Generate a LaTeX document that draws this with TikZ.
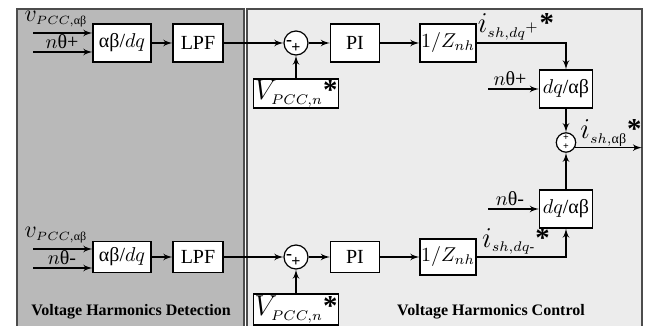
\documentclass[tikz,border=0pt]{standalone}
\usepackage{amsmath}
\usepackage{fontspec}
\setmainfont{Liberation Serif}
\usetikzlibrary{arrows}
\def\albe{\text{αβ}}
\def\thet{\text{θ}}
\def\rstar{\textbf{\Large *}}
\def\sub#1{_{\scriptscriptstyle #1}}

\begin{document}
\begin{tikzpicture}[x=0.5pt,y=-0.5pt,line width=0.6pt,>=latex',
    blk/.style={draw,fill=white,inner sep=0.5pt,minimum height=19pt},
    sumc/.style={draw,fill=white,circle,inner sep=0pt,minimum size=12pt},
    sgn/.style={inner sep=0pt,font=\bfseries\small},
    panel/.style={draw=black!70,line width=1pt},
    title/.style={font=\footnotesize\bfseries}]
    \useasboundingbox (0,0) rectangle (655,326);
    % the two panels
    \draw[panel,fill=gray!55] (17,9) rectangle (244,340);
    \draw[panel,fill=gray!15] (247,9) rectangle (642,340);
    \node[title] (tdet) at (131,312) {Voltage Harmonics Detection};
    \node[title] (tctl) at (491,312) {Voltage Harmonics Control};

    % positive sequence
    \begin{scope}
        \coordinate (va) at (33,33);
        \coordinate (na) at (33,52);
        \node[anchor=west,inner sep=0pt] (lva) at (24,19) {\large$v\sub{PCC,\albe}$};
        \node (lna) at (62,42) {$n\thet$+};
        \node[blk,minimum width=29pt] (ab1) at (122,43) {\albe/$dq$};
        \node[blk,minimum width=25pt] (lpf1) at (198,43) {LPF};
        \node[sumc] (sum1) at (296,43) {};
        \node[sgn] (m1) at ([xshift=-3.5pt]sum1.center) {-};
        \node[sgn] (p1) at ([yshift=-2.5pt]sum1.center) {\footnotesize +};
        \node[blk,minimum width=41.5pt,minimum height=14.5pt] (vr1) at (296,93.5) {\Large$V\sub{PCC,n}$\rstar};
        \node[blk,minimum width=24.5pt] (pi1) at (355,43) {PI};
        \node[blk,minimum width=28pt] (z1) at (448,43) {$1/Z_{nh}$};
        \node[blk,minimum width=26.5pt] (dq1) at (566,89) {$dq$/\albe};
        \coordinate (nc) at (488,89);
        \node (lnc) at (510,79) {$n\thet$+};
        \draw[->] (va) -- (va -| ab1.west);
        \draw[->] (na) -- (na -| ab1.west);
        \draw[->] (ab1) -- (lpf1);
        \draw[->] (lpf1) -- (sum1);
        \draw[->] (vr1) -- (sum1);
        \draw[->] (sum1) -- (pi1);
        \draw[->] (pi1) -- (z1);
        \draw[->] (z1) -| node[pos=0.22,above,inner sep=1pt] (isp) {\Large$i\sub{sh,dq^{+}}$\rstar} (dq1);
        \draw[->] (nc) -- (dq1);
    \end{scope}

    % negative sequence
    \begin{scope}
        \coordinate (vb) at (33,249);
        \coordinate (nb) at (33,268);
        \node[anchor=west,inner sep=0pt] (lvb) at (24,235) {\large$v\sub{PCC,\albe}$};
        \node (lnb) at (62,258) {$n\thet$-};
        \node[blk,minimum width=29pt,minimum height=15.5pt] (ab2) at (122,257) {\albe/$dq$};
        \node[blk,minimum width=25pt,minimum height=15.5pt] (lpf2) at (198,257) {LPF};
        \node[sumc] (sum2) at (296,257) {};
        \node[sgn] (m2) at ([xshift=-3.5pt]sum2.center) {-};
        \node[sgn] (p2) at ([yshift=-2.5pt]sum2.center) {\footnotesize +};
        \node[blk,minimum width=41.5pt,minimum height=15.5pt] (vr2) at (296,309.5) {\Large$V\sub{PCC,n}$\rstar};
        \node[blk,minimum width=24.5pt,minimum height=15.5pt] (pi2) at (355,257) {PI};
        \node[blk,minimum width=28pt,minimum height=18pt] (z2) at (448,257) {$1/Z_{nh}$};
        \node[blk,minimum width=26.5pt] (dq2) at (566,209) {$dq$/\albe};
        \coordinate (nd) at (488,209);
        \node (lnd) at (510,199) {$n\thet$-};
        \draw[->] (vb) -- (vb -| ab2.west);
        \draw[->] (nb) -- (nb -| ab2.west);
        \draw[->] (ab2) -- (lpf2);
        \draw[->] (lpf2) -- (sum2);
        \draw[->] (vr2) -- (sum2);
        \draw[->] (sum2) -- (pi2);
        \draw[->] (pi2) -- (z2);
        \draw[->] (z2) -| node[pos=0.22,above,inner sep=1pt] (ism) {\Large$i\sub{sh,dq\text{-}}$\rstar} (dq2);
        \draw[->] (nd) -- (dq2);
    \end{scope}

    % summing the two sequences
    \node[sumc,minimum size=9.7pt] (sum3) at (566,142.5) {};
    \node[sgn] (p3) at ([yshift=2.2pt]sum3.center) {\tiny +};
    \node[sgn] (p4) at ([yshift=-2.2pt]sum3.center) {\tiny +};
    \coordinate (out) at (642,0);
    \draw[->] (dq1) -- (sum3);
    \draw[->] (dq2) -- (sum3);
    \draw[->] (sum3.-30) -- (sum3.-30 -| out);
    \node (isab) at (611,133) {\Large$i\sub{sh,\albe}$\rstar};
\end{tikzpicture}
\end{document}
